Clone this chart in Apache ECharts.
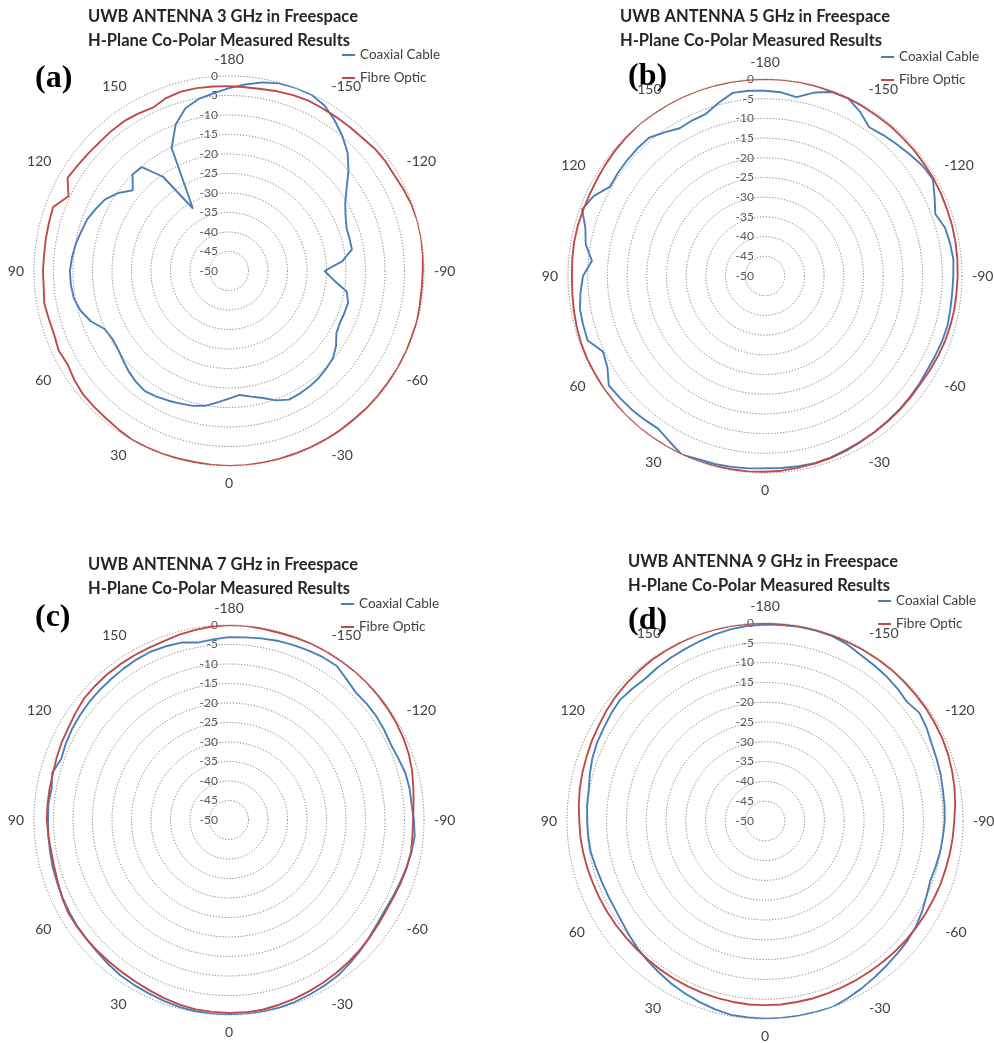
<!DOCTYPE html>
<html>
<head>
<meta charset="utf-8">
<title>UWB Antenna H-Plane Co-Polar Measured Results</title>
<script src="https://cdn.jsdelivr.net/npm/echarts@6/dist/echarts.min.js"></script>
<style>
  html, body { margin: 0; padding: 0; background: #ffffff; }
  #chart { width: 994px; height: 1043px; }
</style>
</head>
<body>
<div id="chart"></div>
<script>
// Measurement angles (degrees), -180 .. 180 in 5 degree steps
const ANGLES = [
  -180, -175, -170, -165, -160, -155, -150, -145, -140, -135, -130, -125,
  -120, -115, -110, -105, -100, -95, -90, -85, -80, -75, -70, -65,
  -60, -55, -50, -45, -40, -35, -30, -25, -20, -15, -10, -5,
  0, 5, 10, 15, 20, 25, 30, 35, 40, 45, 50, 55,
  60, 65, 70, 75, 80, 85, 90, 95, 100, 105, 110, 115,
  120, 125, 130, 135, 140, 145, 150, 155, 160, 165, 170, 175,
  180
];

const FREQUENCIES = ['3 GHz', '5 GHz', '7 GHz', '9 GHz'];
const PANEL_LETTERS = ['(a)', '(b)', '(c)', '(d)'];
const SERIES_NAMES = ['Coaxial Cable', 'Fibre Optic'];

// Normalised gain in dB, one value per angle in ANGLES
const COAX_3GHZ = [
  -3.1, -2.0, -0.9, -0.2, 0.0, -0.1, -1.0, -2.8, -4.8, -7.0, -10.0, -13.2,
  -15.6, -17.0, -17.9, -18.0, -18.0, -20.8, -25.5, -23.0, -19.3, -18.4, -18.5, -18.6,
  -18.2, -16.5, -15.2, -14.7, -14.2, -13.9, -13.7, -13.6, -14.7, -16.3, -17.3, -18.1,
  -17.3, -16.2, -14.9, -14.2, -13.8, -13.3, -12.8, -12.4, -12.9, -13.6, -14.5, -15.2,
  -15.4, -14.8, -12.3, -10.6, -9.6, -9.3, -9.2, -9.6, -10.1, -10.8, -11.3, -12.3,
  -13.3, -15.2, -17.8, -15.0, -15.2, -20.5, -31.5, -15.2, -10.0, -6.8, -5.2, -4.3,
  -3.1
];
const FIBRE_3GHZ = [
  -2.6, -2.7, -2.6, -2.3, -2.0, -1.8, -1.9, -1.9, -1.8, -1.7, -1.2, -1.0,
  -1.0, -0.6, -0.2, 0.0, 0.0, -0.1, -0.3, -0.4, -0.3, -0.1, -0.2, -0.1,
  -0.1, -0.2, -0.2, -0.2, -0.3, -0.2, -0.2, -0.2, -0.2, -0.1, -0.1, 0.0,
  0.0, -0.1, -0.2, -0.2, -0.1, -0.1, -0.1, -0.5, -0.8, -0.9, -1.0, -1.5,
  -2.2, -1.8, -2.3, -2.2, -1.9, -2.3, -2.3, -2.4, -2.3, -2.2, -2.0, -4.6,
  -2.2, -2.7, -3.0, -3.2, -3.1, -3.1, -3.4, -3.8, -2.8, -2.4, -2.4, -2.5,
  -2.6
];

const COAX_5GHZ = [
  -3.0, -3.2, -3.9, -1.8, -0.3, -0.2, -1.8, -3.9, -3.3, -2.7, -2.0, -1.2,
  -0.8, -2.5, -4.0, -2.7, -2.3, -2.0, -2.2, -2.3, -2.2, -2.0, -2.1, -2.3,
  -2.4, -2.2, -2.1, -1.9, -1.8, -1.6, -1.4, -1.1, -0.9, -0.8, -1.0, -1.1,
  -1.2, -1.0, -0.8, -0.6, -0.5, 0.0, -1.5, -2.7, -2.4, -2.1, -1.9, -1.6,
  -3.8, -4.6, -2.1, -2.2, -2.3, -3.0, -3.8, -5.9, -3.8, -2.8, -0.6, -2.0,
  -4.6, -4.4, -4.3, -4.2, -4.2, -5.5, -6.7, -6.4, -6.2, -4.5, -2.8, -2.8,
  -3.0
];
const FIBRE_5GHZ = [
  0.0, 0.0, 0.0, -0.1, -0.2, -0.2, -0.3, -0.4, -0.4, -0.5, -0.5, -0.6,
  -0.6, -0.7, -0.8, -0.8, -0.9, -1.0, -1.1, -1.2, -1.2, -1.3, -1.4, -1.6,
  -1.8, -2.0, -1.9, -1.8, -1.7, -1.6, -1.5, -1.3, -1.0, -0.8, -0.6, -0.4,
  -0.3, -0.2, -0.2, -0.1, 0.0, 0.0, 0.0, 0.0, 0.0, 0.0, -0.1, -0.1,
  -0.2, -0.2, -0.3, -0.5, -0.7, -0.9, -1.0, -0.9, -0.8, -0.8, -0.9, -0.9,
  -0.8, -0.6, -0.4, -0.2, 0.0, 0.0, 0.0, 0.0, 0.0, 0.0, 0.0, 0.0,
  0.0
];

const COAX_7GHZ = [
  -3.1, -3.0, -2.7, -2.4, -2.2, -2.0, -1.8, -1.8, -3.0, -3.9, -3.8, -3.8,
  -4.0, -4.2, -3.8, -3.2, -3.0, -3.0, -2.6, -2.2, -2.5, -2.9, -3.3, -3.6,
  -3.8, -3.6, -3.1, -2.5, -1.9, -1.3, -1.0, -0.7, -0.4, -0.2, -0.1, 0.0,
  0.0, -0.1, -0.2, -0.4, -0.7, -1.0, -1.2, -1.4, -1.8, -2.2, -2.4, -2.5,
  -2.7, -2.9, -3.1, -3.2, -3.4, -3.5, -3.6, -3.5, -3.8, -3.1, -4.2, -3.8,
  -3.5, -3.3, -3.1, -3.0, -2.9, -2.7, -2.5, -2.4, -2.6, -2.9, -3.8, -3.5,
  -3.1
];
const FIBRE_7GHZ = [
  0.0, 0.0, -0.2, -0.3, -0.2, -0.1, -0.1, -0.1, -0.1, -0.1, -0.2, -0.3,
  -0.4, -0.6, -0.9, -1.4, -2.0, -2.5, -2.8, -2.8, -2.6, -2.8, -3.1, -3.4,
  -3.5, -3.3, -3.0, -2.7, -2.4, -2.1, -1.8, -1.5, -1.2, -0.9, -0.6, -0.5,
  -0.5, -0.6, -0.7, -1.0, -1.4, -1.8, -2.1, -2.3, -2.4, -2.4, -2.4, -2.4,
  -2.4, -2.8, -3.3, -3.6, -3.7, -3.5, -3.3, -3.3, -3.3, -3.3, -3.0, -2.7,
  -2.5, -2.0, -1.5, -1.4, -1.3, -1.3, -1.3, -1.3, -1.2, -0.8, -0.5, -0.2,
  0.0
];

const COAX_9GHZ = [
  -0.4, -0.3, -0.2, -0.2, -0.3, -0.8, -1.6, -2.0, -2.3, -2.7, -3.2, -2.4,
  -2.9, -3.6, -3.9, -4.1, -4.4, -4.5, -4.6, -4.9, -5.1, -5.4, -5.6, -5.0,
  -4.2, -3.5, -3.0, -2.7, -2.3, -1.8, -1.2, -0.6, 0.0, -0.1, -0.1, -0.1,
  -0.1, -0.2, -0.3, -0.8, -1.4, -2.0, -2.6, -3.3, -3.9, -4.5, -5.2, -5.8,
  -6.1, -6.1, -6.0, -5.7, -5.3, -5.2, -5.1, -4.9, -4.8, -4.2, -3.6, -3.2,
  -3.0, -2.6, -2.3, -2.7, -3.0, -2.7, -2.4, -2.1, -1.7, -1.2, -0.8, -0.5,
  -0.4
];
const FIBRE_9GHZ = [
  0.0, 0.0, 0.0, -0.1, -0.1, -0.2, -0.2, -0.2, -0.2, -0.3, -0.35, -0.4,
  -0.5, -0.6, -0.8, -1.1, -1.4, -1.8, -2.2, -2.4, -2.6, -2.8, -2.9, -3.1,
  -3.2, -3.3, -3.4, -3.5, -3.6, -3.7, -3.7, -3.7, -3.7, -3.6, -3.6, -3.5,
  -3.5, -3.5, -3.6, -3.7, -3.8, -3.9, -4.0, -4.1, -4.2, -4.2, -4.2, -4.1,
  -4.0, -3.9, -3.8, -3.6, -3.4, -3.2, -3.1, -2.8, -2.5, -2.3, -2.1, -1.8,
  -1.6, -1.2, -0.9, -0.7, -0.5, -0.3, -0.2, -0.1, 0.0, 0.0, 0.0, 0.0,
  0.0
];

const COAX = [COAX_3GHZ, COAX_5GHZ, COAX_7GHZ, COAX_9GHZ];
const FIBRE = [FIBRE_3GHZ, FIBRE_5GHZ, FIBRE_7GHZ, FIBRE_9GHZ];

// Radial scale (dB) and angular scale (degrees)
const R_MIN = -50, R_MAX = 0, R_STEP = 5;
const A_MIN = -180, A_MAX = 180, A_STEP = 30;

// Page layout of the four polar panels
const LAYOUT = [
  { center: [229, 271], radius: 195, titleX: 88,  titleY: 5,   legendX: 342, legendY: 48,  letterX: 35,  letterY: 80 },
  { center: [765, 276], radius: 197, titleX: 620, titleY: 5,   legendX: 881, legendY: 50,  letterX: 628, letterY: 78 },
  { center: [229, 820], radius: 195, titleX: 88,  titleY: 553, legendX: 341, legendY: 597, letterX: 35,  letterY: 619 },
  { center: [765, 821], radius: 198, titleX: 628, titleY: 550, legendX: 878, legendY: 594, letterX: 628, letterY: 622 }
];

const COLORS = { coax: '#4a7ebb', fibre: '#be4b48' };
const SANS = 'Lato, "Open Sans", sans-serif';

const polar = [], angleAxis = [], radiusAxis = [], series = [], title = [], legend = [], graphic = [];

LAYOUT.forEach((p, i) => {
  polar.push({ center: p.center, radius: p.radius });

  angleAxis.push({
    polarIndex: i,
    type: 'value',
    min: A_MIN, max: A_MAX, interval: A_STEP,
    startAngle: 90,
    clockwise: true,
    axisLine: { show: false },
    axisTick: { show: false },
    splitLine: { show: false },
    axisLabel: { margin: 10, color: '#404040', fontSize: 14, fontFamily: SANS }
  });

  radiusAxis.push({
    polarIndex: i,
    type: 'value',
    min: R_MIN, max: R_MAX, interval: R_STEP,
    axisLine: { show: false },
    axisTick: { show: false },
    axisLabel: { margin: 11, color: '#595959', fontSize: 12, fontFamily: SANS },
    splitLine: { show: true, lineStyle: { color: '#7a7a7a', width: 1, type: [1.2, 1.8] } }
  });

  series.push({
    name: SERIES_NAMES[0],
    type: 'line',
    coordinateSystem: 'polar',
    polarIndex: i,
    showSymbol: false,
    lineStyle: { color: COLORS.coax, width: 1.9 },
    itemStyle: { color: COLORS.coax },
    data: ANGLES.map((a, k) => [COAX[i][k], a])
  });
  series.push({
    name: SERIES_NAMES[1],
    type: 'line',
    coordinateSystem: 'polar',
    polarIndex: i,
    showSymbol: false,
    lineStyle: { color: COLORS.fibre, width: 1.9 },
    itemStyle: { color: COLORS.fibre },
    data: ANGLES.map((a, k) => [FIBRE[i][k], a])
  });

  title.push({
    text: 'UWB ANTENNA ' + FREQUENCIES[i] + ' in Freespace\nH-Plane Co-Polar Measured Results',
    left: p.titleX,
    top: p.titleY,
    padding: 0,
    textStyle: { fontFamily: SANS, fontWeight: 'bold', fontSize: 16.5, lineHeight: 24, color: '#262626' }
  });

  legend.push({
    data: SERIES_NAMES,
    orient: 'vertical',
    left: p.legendX,
    top: p.legendY,
    padding: 0,
    itemGap: 9,
    itemWidth: 13,
    itemHeight: 2,
    icon: 'rect',
    selectedMode: false,
    textStyle: { fontFamily: SANS, fontSize: 13.5, color: '#404040' }
  });

  graphic.push({
    type: 'text',
    left: p.letterX,
    top: p.letterY - 17,
    style: {
      text: PANEL_LETTERS[i],
      font: 'bold 32px "Liberation Serif", "Times New Roman", serif',
      fill: '#000000'
    }
  });
});

const chart = echarts.init(document.getElementById('chart'), null, { renderer: 'canvas' });
chart.setOption({
  backgroundColor: '#ffffff',
  animation: false,
  title, legend, polar, angleAxis, radiusAxis, series, graphic
});
</script>
</body>
</html>
